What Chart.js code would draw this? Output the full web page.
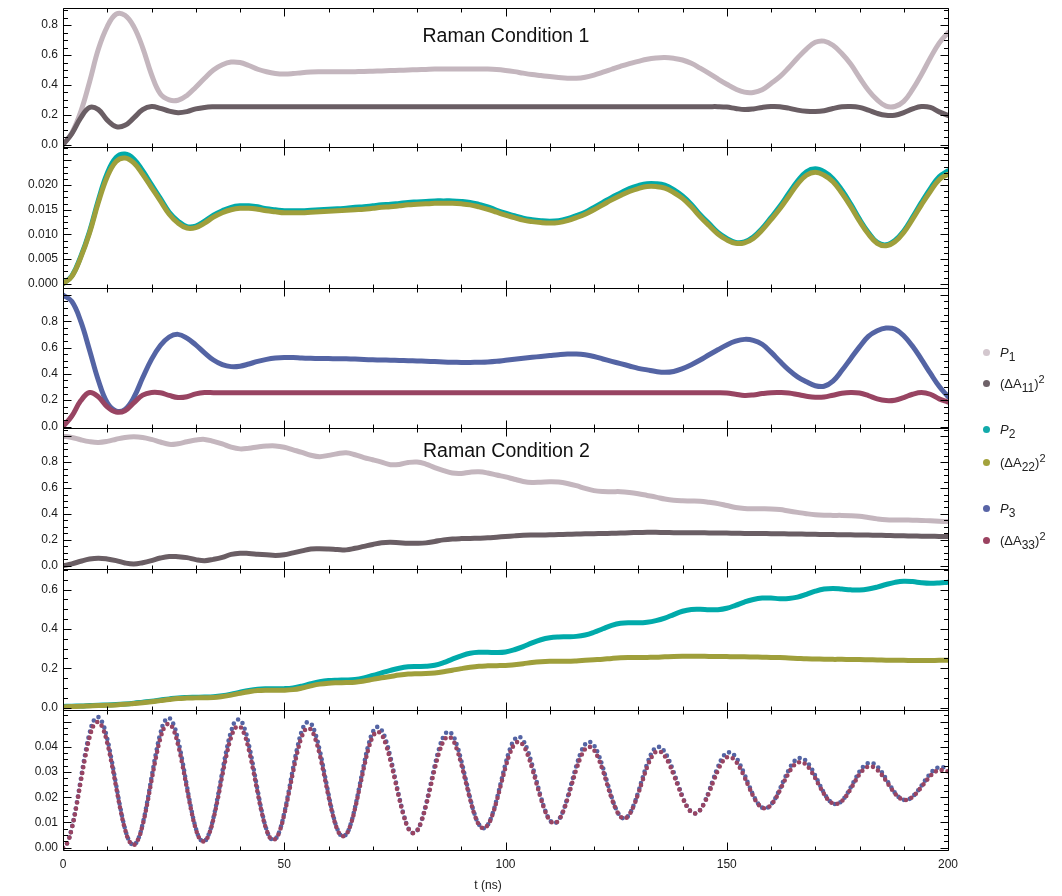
<!DOCTYPE html>
<html><head><meta charset="utf-8">
<script src="https://cdn.jsdelivr.net/npm/chart.js@4.4.1/dist/chart.umd.min.js"></script>
<style>
html,body{margin:0;padding:0;background:#fff;width:1062px;height:896px;overflow:hidden;font-family:"Liberation Sans",Arial,sans-serif;}
canvas.panel{position:absolute;left:0;}
.title{position:absolute;font-size:19.5px;line-height:19.5px;color:#111;white-space:nowrap;transform:translateX(-50%);}
.xt{position:absolute;font-size:12px;line-height:14px;color:#1a1a1a;white-space:nowrap;transform:translateX(-50%);}
.dot{position:absolute;width:7px;height:7px;border-radius:50%;}
.lt{position:absolute;left:1000px;font-size:13px;line-height:16px;height:16px;color:#222;white-space:nowrap;}
.lt sub{font-size:12px;vertical-align:-4px;line-height:0;}
.lt sup{font-size:11px;vertical-align:5px;line-height:0;}
</style></head><body>
<canvas class="panel" id="c0"></canvas>
<canvas class="panel" id="c1"></canvas>
<canvas class="panel" id="c2"></canvas>
<canvas class="panel" id="c3"></canvas>
<canvas class="panel" id="c4"></canvas>
<canvas class="panel" id="c5"></canvas>
<div class="title" style="left:506px;top:25.5px">Raman Condition 1</div>
<div class="title" style="left:506.5px;top:440.5px">Raman Condition 2</div>
<div class="xt" style="left:488px;top:878px">t (ns)</div>

<div class="dot" style="left:983px;top:349px;background:#d3c7ce"></div>
<div class="lt" style="top:345px"><i>P</i><sub>1</sub></div>
<div class="dot" style="left:983px;top:380px;background:#6e6268"></div>
<div class="lt" style="top:376px">(ΔA<sub>11</sub>)<sup>2</sup></div>
<div class="dot" style="left:983px;top:426px;background:#12aaaa"></div>
<div class="lt" style="top:422px"><i>P</i><sub>2</sub></div>
<div class="dot" style="left:983px;top:459px;background:#a3a23c"></div>
<div class="lt" style="top:455px">(ΔA<sub>22</sub>)<sup>2</sup></div>
<div class="dot" style="left:983px;top:505px;background:#5864a6"></div>
<div class="lt" style="top:501px"><i>P</i><sub>3</sub></div>
<div class="dot" style="left:983px;top:537px;background:#9b4260"></div>
<div class="lt" style="top:533px">(ΔA<sub>33</sub>)<sup>2</sup></div>

<script>
// ---------------- data ----------------
const T2 = [0,2,4,6,8,10,12,14,16,18,20,22,24,26,28,30,32,34,36,38,40,42,44,46,48,50,52,54,56,58,60,62,64,66,68,70,72,74,76,78,80,82,84,86,88,90,92,94,96,98,100,102,104,106,108,110,112,114,116,118,120,122,124,126,128,130,132,134,136,138,140,142,144,146,148,150,152,154,156,158,160,162,164,166,168,170,172,174,176,178,180,182,184,186,188,190,192,194,196,198,200];
const T1 = [0,1,2,3,4,5,6,7,8,9,10,11,12,13,14,15,16,17,18,19,20,21,22,23,24,25,26,27,28,29,30,31,32,33,34,35,36,37,38,39,40,41,42,43,44,45,46,47,48,49,50,51,52,53,54,55,56,57,58,59,60,61,62,63,64,65,66,67,68,69,70,71,72,73,74,75,76,77,78,79,80,81,82,83,84,85,86,87,88,89,90,91,92,93,94,95,96,97,98,99,100,101,102,103,104,105,106,107,108,109,110,111,112,113,114,115,116,117,118,119,120,121,122,123,124,125,126,127,128,129,130,131,132,133,134,135,136,137,138,139,140,141,142,143,144,145,146,147,148,149,150,151,152,153,154,155,156,157,158,159,160,161,162,163,164,165,166,167,168,169,170,171,172,173,174,175,176,177,178,179,180,181,182,183,184,185,186,187,188,189,190,191,192,193,194,195,196,197,198,199,200];

const X_LABELS = [0,50,100,150,200];
const X_TICKS = [0,10,20,30,40,50,60,70,80,90,100,110,120,130,140,150,160,170,180,190,200];
const Y_LABELS_1 = [0,0.2,0.4,0.6,0.8];
const Y_LABELS_2 = [0,0.005,0.01,0.015,0.02];
const Y_LABELS_3 = [0,0.2,0.4,0.6,0.8];
const Y_LABELS_4 = [0,0.2,0.4,0.6,0.8];
const Y_LABELS_5 = [0,0.2,0.4,0.6];
const Y_LABELS_6 = [0,0.01,0.02,0.03,0.04];

// Raman Condition 1
const P1_C1 = [0.00,0.08,0.22,0.42,0.64,0.79,0.873,0.866,0.79,0.65,
 0.47,0.34,0.30,0.298,0.33,0.385,0.445,0.50,0.535,0.553,
 0.55,0.53,0.505,0.488,0.477,0.473,0.476,0.482,0.486,0.488,
 0.489,0.488,0.488,0.489,0.49,0.492,0.494,0.496,0.498,0.5,
 0.502,0.504,0.506,0.507,0.507,0.507,0.507,0.507,0.506,0.503,
 0.497,0.489,0.479,0.47,0.463,0.456,0.45,0.445,0.445,0.452,
 0.466,0.485,0.505,0.525,0.543,0.558,0.572,0.58,0.583,0.578,
 0.567,0.545,0.512,0.477,0.44,0.405,0.373,0.352,0.35,0.368,
 0.41,0.455,0.515,0.58,0.64,0.685,0.693,0.665,0.61,0.54,
 0.45,0.365,0.30,0.258,0.256,0.29,0.37,0.47,0.58,0.68,
 0.75];
const DA11_C1 = [0,0.075,0.18,0.25,0.235,0.165,0.122,0.13,0.18,0.235,
 0.256,0.244,0.225,0.215,0.222,0.24,0.25,0.254,0.255,0.255,
 0.255,0.255,0.255,0.255,0.255,0.255,0.255,0.255,0.255,0.255,
 0.255,0.255,0.255,0.255,0.255,0.255,0.255,0.255,0.255,0.255,
 0.255,0.255,0.255,0.255,0.255,0.255,0.255,0.255,0.255,0.255,
 0.255,0.255,0.255,0.255,0.255,0.255,0.255,0.255,0.255,0.255,
 0.255,0.255,0.255,0.255,0.255,0.255,0.255,0.255,0.255,0.255,
 0.255,0.255,0.255,0.255,0.255,0.252,0.243,0.236,0.24,0.25,
 0.256,0.255,0.245,0.232,0.224,0.222,0.228,0.243,0.254,0.256,
 0.25,0.232,0.21,0.197,0.198,0.215,0.24,0.256,0.25,0.22,
 0.196];
const P2_C1 = [0,0.0016,0.0055,0.0106,0.017,0.0224,0.0256,0.0263,0.0253,0.0229,
 0.0201,0.0173,0.0145,0.0127,0.0116,0.0117,0.0127,0.0139,0.0148,0.0155,
 0.0158,0.0158,0.0156,0.0152,0.015,0.0148,0.0148,0.0148,0.0149,0.015,
 0.0151,0.0152,0.0153,0.0155,0.0156,0.0158,0.016,0.0161,0.0163,0.0165,
 0.0166,0.0167,0.0168,0.0168,0.0168,0.0167,0.0165,0.0161,0.0156,0.0149,
 0.0143,0.0138,0.0133,0.013,0.0128,0.0127,0.0128,0.0132,0.0138,0.0145,
 0.0155,0.0165,0.0175,0.0184,0.0193,0.0199,0.0203,0.0203,0.02,0.0191,
 0.0178,0.0161,0.014,0.0122,0.0104,0.0092,0.0084,0.0085,0.0095,0.0112,
 0.0134,0.0157,0.0183,0.0208,0.0227,0.0233,0.0227,0.0213,0.019,0.0162,
 0.0131,0.0104,0.0084,0.0079,0.0088,0.0107,0.0135,0.0165,0.0193,0.0217,
 0.0229];
const DA22_C1 = [0,0.0015,0.0053,0.0103,0.0165,0.0217,0.0248,0.0255,0.0245,0.0222,
 0.0195,0.0168,0.0141,0.0123,0.0113,0.0114,0.0123,0.0135,0.0144,0.015,
 0.0153,0.0153,0.0151,0.0148,0.0146,0.0144,0.0144,0.0144,0.0145,0.0146,
 0.0147,0.0148,0.0149,0.015,0.0151,0.0153,0.0155,0.0156,0.0158,0.016,
 0.0161,0.0162,0.0163,0.0163,0.0163,0.0162,0.016,0.0156,0.0151,0.0145,
 0.0139,0.0134,0.0129,0.0126,0.0124,0.0123,0.0124,0.0128,0.0134,0.0141,
 0.015,0.016,0.017,0.0179,0.0187,0.0193,0.0197,0.0197,0.0194,0.0185,
 0.0173,0.0156,0.0136,0.0118,0.0101,0.0089,0.0082,0.0083,0.0092,0.0109,
 0.013,0.0152,0.0177,0.0202,0.022,0.0226,0.022,0.0207,0.0184,0.0157,
 0.0127,0.0101,0.0082,0.0077,0.0085,0.0104,0.0131,0.016,0.0187,0.0211,
 0.0222];
const P3_C1 = [1.0,0.95,0.80,0.58,0.35,0.18,0.118,0.13,0.22,0.37,
 0.51,0.615,0.68,0.70,0.672,0.62,0.56,0.505,0.47,0.455,
 0.458,0.475,0.495,0.51,0.52,0.525,0.524,0.52,0.518,0.517,
 0.516,0.515,0.514,0.512,0.509,0.507,0.505,0.504,0.502,0.5,
 0.498,0.496,0.493,0.49,0.488,0.487,0.487,0.488,0.49,0.495,
 0.503,0.511,0.519,0.526,0.532,0.539,0.546,0.551,0.551,0.545,
 0.532,0.513,0.495,0.478,0.46,0.442,0.43,0.418,0.412,0.418,
 0.44,0.47,0.505,0.545,0.583,0.62,0.648,0.662,0.655,0.625,
 0.565,0.495,0.43,0.377,0.34,0.31,0.306,0.345,0.425,0.515,
 0.605,0.685,0.728,0.748,0.74,0.69,0.61,0.51,0.405,0.305,
 0.227];
const DA33_C1 = [0,0.08,0.195,0.258,0.225,0.15,0.11,0.12,0.18,0.238,
 0.258,0.256,0.236,0.22,0.226,0.248,0.258,0.257,0.256,0.256,
 0.256,0.256,0.256,0.256,0.256,0.256,0.256,0.256,0.256,0.256,
 0.256,0.256,0.256,0.256,0.256,0.256,0.256,0.256,0.256,0.256,
 0.256,0.256,0.256,0.256,0.256,0.256,0.256,0.256,0.256,0.256,
 0.256,0.256,0.256,0.256,0.256,0.256,0.256,0.256,0.256,0.256,
 0.256,0.256,0.256,0.256,0.256,0.256,0.256,0.256,0.256,0.256,
 0.256,0.256,0.256,0.256,0.256,0.254,0.245,0.236,0.24,0.25,
 0.257,0.258,0.255,0.243,0.23,0.222,0.224,0.238,0.252,0.258,
 0.254,0.235,0.21,0.197,0.2,0.22,0.245,0.258,0.245,0.21,
 0.186];

// Raman Condition 2
const P1_C2 = [1.0,0.99,0.972,0.958,0.952,0.96,0.976,0.99,0.995,0.99,
 0.975,0.955,0.937,0.942,0.957,0.97,0.975,0.96,0.94,0.915,
 0.902,0.907,0.917,0.924,0.925,0.915,0.895,0.875,0.853,0.842,
 0.852,0.865,0.872,0.857,0.835,0.818,0.8,0.78,0.782,0.797,
 0.801,0.785,0.758,0.735,0.716,0.713,0.722,0.725,0.716,0.7,
 0.686,0.668,0.651,0.643,0.645,0.648,0.646,0.635,0.618,0.597,
 0.58,0.573,0.572,0.572,0.566,0.556,0.543,0.53,0.515,0.505,
 0.501,0.5,0.498,0.49,0.48,0.465,0.45,0.442,0.44,0.44,
 0.439,0.434,0.423,0.412,0.402,0.394,0.39,0.389,0.389,0.387,
 0.382,0.372,0.362,0.355,0.353,0.353,0.352,0.35,0.347,0.344,
 0.341];
const DA11_C2 = [0,0.015,0.035,0.052,0.059,0.053,0.04,0.022,0.014,0.024,
 0.04,0.06,0.072,0.07,0.063,0.048,0.04,0.05,0.065,0.088,
 0.097,0.095,0.09,0.085,0.08,0.085,0.1,0.115,0.13,0.132,
 0.13,0.126,0.123,0.135,0.15,0.165,0.178,0.181,0.178,0.175,
 0.174,0.177,0.188,0.2,0.207,0.21,0.211,0.213,0.216,0.221,
 0.226,0.231,0.235,0.237,0.238,0.239,0.241,0.243,0.245,0.247,
 0.248,0.249,0.251,0.253,0.255,0.257,0.258,0.258,0.257,0.256,
 0.256,0.255,0.255,0.254,0.254,0.253,0.251,0.25,0.25,0.249,
 0.248,0.247,0.246,0.245,0.244,0.243,0.242,0.241,0.24,0.239,
 0.238,0.237,0.236,0.234,0.232,0.231,0.23,0.229,0.228,0.227,
 0.226];
const P2_C2 = [0.005,0.007,0.008,0.01,0.012,0.013,0.015,0.018,0.022,0.027,
 0.032,0.038,0.044,0.049,0.051,0.052,0.053,0.055,0.06,0.068,
 0.078,0.087,0.093,0.095,0.095,0.096,0.1,0.109,0.121,0.131,
 0.137,0.139,0.14,0.143,0.151,0.163,0.176,0.189,0.2,0.207,
 0.209,0.21,0.215,0.228,0.246,0.263,0.276,0.281,0.281,0.28,
 0.283,0.294,0.31,0.329,0.345,0.355,0.359,0.36,0.362,0.369,
 0.383,0.401,0.418,0.429,0.432,0.431,0.434,0.442,0.455,0.473,
 0.49,0.499,0.5,0.498,0.498,0.505,0.52,0.537,0.55,0.557,
 0.557,0.554,0.555,0.562,0.576,0.592,0.603,0.606,0.603,0.599,
 0.598,0.603,0.613,0.626,0.637,0.643,0.641,0.635,0.632,0.634,
 0.638];
const DA22_C2 = [0.003,0.005,0.006,0.008,0.01,0.011,0.013,0.016,0.02,0.024,
 0.029,0.035,0.041,0.046,0.048,0.049,0.05,0.051,0.056,0.063,
 0.072,0.08,0.086,0.088,0.088,0.088,0.091,0.099,0.11,0.119,
 0.124,0.126,0.127,0.129,0.135,0.143,0.151,0.158,0.165,0.17,
 0.172,0.173,0.176,0.182,0.19,0.198,0.205,0.21,0.212,0.213,
 0.214,0.218,0.223,0.229,0.233,0.235,0.235,0.235,0.237,0.24,
 0.243,0.246,0.25,0.253,0.254,0.254,0.255,0.256,0.258,0.26,
 0.261,0.261,0.261,0.26,0.26,0.259,0.258,0.258,0.257,0.256,
 0.255,0.254,0.252,0.25,0.248,0.247,0.246,0.245,0.245,0.244,
 0.244,0.243,0.242,0.241,0.24,0.24,0.239,0.239,0.239,0.24,
 0.24];
const P3_C2 = [0,0.0021,0.0080,0.0167,0.0270,0.0371,0.0454,0.0506,0.0518,0.0492,
 0.0432,0.0347,0.0250,0.0155,0.0077,0.0026,0.0011,0.0035,0.0094,0.0179,
 0.0278,0.0374,0.0453,0.0502,0.0514,0.0488,0.0427,0.0342,0.0245,0.0152,
 0.0078,0.0033,0.0026,0.0056,0.0119,0.0205,0.0301,0.0391,0.0462,0.0503,
 0.0507,0.0474,0.0409,0.0322,0.0227,0.0139,0.0072,0.0035,0.0035,0.0070,
 0.0137,0.0223,0.0316,0.0400,0.0464,0.0496,0.0493,0.0454,0.0388,0.0303,
 0.0213,0.0133,0.0074,0.0046,0.0053,0.0093,0.0160,0.0244,0.0330,0.0406,
 0.0458,0.0479,0.0466,0.0424,0.0359,0.0280,0.0200,0.0130,0.0079,0.0058,
 0.0067,0.0107,0.0170,0.0246,0.0325,0.0394,0.0441,0.0460,0.0448,0.0408,
 0.0346,0.0272,0.0198,0.0134,0.0092,0.0077,0.0091,0.0131,0.0191,0.0262,
 0.0332,0.0391,0.0428,0.0440,0.0425,0.0386,0.0330,0.0265,0.0201,0.0146,
 0.0110,0.0097,0.0110,0.0145,0.0199,0.0262,0.0324,0.0376,0.0410,0.0420,
 0.0406,0.0370,0.0319,0.0259,0.0201,0.0153,0.0124,0.0116,0.0133,0.0170,
 0.0221,0.0278,0.0332,0.0374,0.0397,0.0398,0.0379,0.0345,0.0300,0.0251,
 0.0203,0.0165,0.0142,0.0136,0.0150,0.0182,0.0225,0.0274,0.0320,0.0356,
 0.0376,0.0376,0.0360,0.0330,0.0291,0.0248,0.0208,0.0177,0.0159,0.0157,
 0.0171,0.0197,0.0233,0.0272,0.0308,0.0337,0.0353,0.0355,0.0343,0.0318,
 0.0286,0.0250,0.0217,0.0190,0.0176,0.0174,0.0186,0.0208,0.0239,0.0271,
 0.0302,0.0324,0.0336,0.0335,0.0322,0.0301,0.0273,0.0244,0.0218,0.0199,
 0.0190,0.0191,0.0203,0.0222,0.0246,0.0271,0.0294,0.0311,0.0319,0.0319,
 0.0315];
const DA33_C2 = [0,0.0020,0.0077,0.0161,0.0260,0.0357,0.0437,0.0487,0.0498,0.0473,
 0.0415,0.0334,0.0241,0.0149,0.0074,0.0025,0.0011,0.0034,0.0090,0.0171,
 0.0266,0.0357,0.0433,0.0480,0.0491,0.0466,0.0408,0.0327,0.0235,0.0146,
 0.0075,0.0033,0.0026,0.0054,0.0114,0.0195,0.0286,0.0371,0.0438,0.0476,
 0.0480,0.0449,0.0388,0.0306,0.0216,0.0133,0.0070,0.0035,0.0035,0.0068,
 0.0132,0.0213,0.0301,0.0381,0.0442,0.0472,0.0469,0.0432,0.0370,0.0289,
 0.0204,0.0128,0.0072,0.0046,0.0053,0.0091,0.0155,0.0235,0.0317,0.0390,
 0.0440,0.0460,0.0448,0.0407,0.0345,0.0270,0.0194,0.0127,0.0078,0.0058,
 0.0067,0.0105,0.0164,0.0237,0.0312,0.0377,0.0422,0.0440,0.0429,0.0391,
 0.0332,0.0262,0.0192,0.0131,0.0091,0.0077,0.0090,0.0128,0.0185,0.0252,
 0.0318,0.0374,0.0409,0.0420,0.0406,0.0369,0.0316,0.0255,0.0195,0.0143,
 0.0109,0.0097,0.0109,0.0142,0.0193,0.0252,0.0310,0.0359,0.0391,0.0400,
 0.0387,0.0353,0.0306,0.0250,0.0195,0.0151,0.0123,0.0116,0.0132,0.0167,
 0.0215,0.0268,0.0319,0.0359,0.0380,0.0381,0.0363,0.0332,0.0289,0.0244,
 0.0199,0.0163,0.0142,0.0136,0.0149,0.0179,0.0218,0.0264,0.0306,0.0340,
 0.0358,0.0358,0.0343,0.0316,0.0280,0.0241,0.0204,0.0175,0.0159,0.0157,
 0.0170,0.0194,0.0227,0.0263,0.0296,0.0323,0.0337,0.0339,0.0328,0.0305,
 0.0276,0.0243,0.0213,0.0188,0.0176,0.0174,0.0185,0.0205,0.0233,0.0263,
 0.0291,0.0311,0.0322,0.0321,0.0309,0.0290,0.0265,0.0239,0.0215,0.0198,
 0.0190,0.0191,0.0202,0.0219,0.0241,0.0263,0.0284,0.0300,0.0307,0.0307,
 0.0303];

// ---------------- layout / style ----------------
const COL = {P1:'#c4b6be', DA11:'#6a5e64', P2:'#00aaaa', DA22:'#9f9f3b', P3:'#5464a4', DA33:'#984462'};
const LEFT = 63, RIGHT = 948, CANVAS_W = 990, PAD = 12;

const PANELS = [
 {top:8,   bottom:147, min:-0.0133,  max:0.913,   labels:Y_LABELS_1, dec:1, major:0.2,   minor:0.05,
  series:[[T2,DA11_C1,COL.DA11],[T2,P1_C1,COL.P1]]},
 {top:147, bottom:288, min:-0.00081, max:0.02768, labels:Y_LABELS_2, dec:3, major:0.005, minor:0.00125,
  series:[[T2,DA22_C1,COL.DA22],[T2,P2_C1,COL.P2]]},
 {top:288, bottom:428, min:-0.0098,  max:1.0508,  labels:Y_LABELS_3, dec:1, major:0.2,   minor:0.05,
  series:[[T2,DA33_C1,COL.DA33],[T2,P3_C1,COL.P3]]},
 {top:428, bottom:569, min:-0.023,   max:1.0615,  labels:Y_LABELS_4, dec:1, major:0.2,   minor:0.05,
  series:[[T2,DA11_C2,COL.DA11],[T2,P1_C2,COL.P1]]},
 {top:569, bottom:710, min:-0.0117,  max:0.704,   labels:Y_LABELS_5, dec:1, major:0.2,   minor:0.05,
  series:[[T2,DA22_C2,COL.DA22],[T2,P2_C2,COL.P2]]},
 {top:710, bottom:850, min:-0.00091, max:0.05453, labels:Y_LABELS_6, dec:2, major:0.01,  minor:0.0025,
  series:[[T1,DA33_C2,COL.DA33],[T1,P3_C2,COL.P3]], dotted:true, last:true}
];

Chart.defaults.font.family = '"Liberation Sans", Arial, sans-serif';
Chart.defaults.font.size = 12;
Chart.defaults.color = '#1a1a1a';

const frameTicks = {
  id: 'frameTicks',
  afterDatasetsDraw(chart, args, o) {
    const ctx = chart.ctx, a = chart.chartArea, xs = chart.scales.x, ys = chart.scales.y;
    const L = Math.round(a.left) + 0.5, R = Math.round(a.right) + 0.5;
    const T = Math.round(a.top) + 0.5, B = Math.round(a.bottom) + 0.5;
    ctx.save();
    ctx.strokeStyle = '#000';
    ctx.lineWidth = 1;
    ctx.beginPath();
    ctx.rect(L, T, R - L, B - T);
    for (const v of X_TICKS) {
      const px = Math.round(xs.getPixelForValue(v)) + 0.5;
      const len = X_LABELS.includes(v) ? 8 : 4;
      ctx.moveTo(px, B); ctx.lineTo(px, B - len);
      ctx.moveTo(px, T); ctx.lineTo(px, T + len);
    }
    const p = o.panel;
    for (let k = 0; ; k++) {
      const v = k * p.minor;
      if (v > p.max) break;
      const r = v / p.major;
      const isMajor = Math.abs(r - Math.round(r)) < 1e-6;
      const len = isMajor ? 8 : 4.5;
      const py = Math.round(ys.getPixelForValue(v)) + 0.5;
      ctx.moveTo(L, py); ctx.lineTo(L + len, py);
      ctx.moveTo(R, py); ctx.lineTo(R - len, py);
    }
    ctx.stroke();
    ctx.restore();
  }
};

PANELS.forEach((p, i) => {
  const cv = document.getElementById('c' + i);
  const h = p.last ? (896 - (p.top - PAD)) : (p.bottom - p.top + 2 * PAD);
  cv.width = CANVAS_W; cv.height = h;
  cv.style.width = CANVAS_W + 'px'; cv.style.height = h + 'px';
  cv.style.top = (p.top - PAD) + 'px';
  const datasets = p.series.map(([T, V, c]) => ({
    data: T.map((t, j) => ({x: t, y: V[j]})),
    borderColor: c,
    backgroundColor: c,
    borderWidth: p.dotted ? 4.6 : 5,
    borderCapStyle: 'round',
    borderJoinStyle: 'round',
    borderDash: p.dotted ? [0, 6] : [],
    pointRadius: 0,
    tension: 0.4,
    cubicInterpolationMode: 'default',
    fill: false
  }));
  const xOpts = {
    type: 'linear', min: 0, max: 200,
    display: !!p.last,
    grid: {display: false, drawTicks: false},
    border: {display: false},
    afterBuildTicks: s => { s.ticks = X_LABELS.map(v => ({value: v})); },
    ticks: {autoSkip: false, maxRotation: 0, padding: 7, callback: v => String(v), font: {size: 12}}
  };
  if (p.last) xOpts.afterFit = s => { s.height = 896 - p.bottom; };
  new Chart(cv, {
    type: 'line',
    data: {datasets},
    plugins: [frameTicks],
    options: {
      responsive: false,
      animation: false,
      events: [],
      layout: {padding: {left: 0, right: CANVAS_W - RIGHT, top: PAD, bottom: p.last ? 0 : PAD}},
      plugins: {legend: {display: false}, tooltip: {enabled: false}, frameTicks: {panel: p}},
      scales: {
        x: xOpts,
        y: {
          type: 'linear', min: p.min, max: p.max,
          grid: {display: false, drawTicks: false},
          border: {display: false},
          afterBuildTicks: s => { s.ticks = p.labels.map(v => ({value: v})); },
          afterFit: s => { s.width = LEFT; },
          ticks: {autoSkip: false, padding: 5, callback: v => Number(v).toFixed(p.dec), font: {size: 12}}
        }
      }
    }
  });
});
</script>
</body></html>
